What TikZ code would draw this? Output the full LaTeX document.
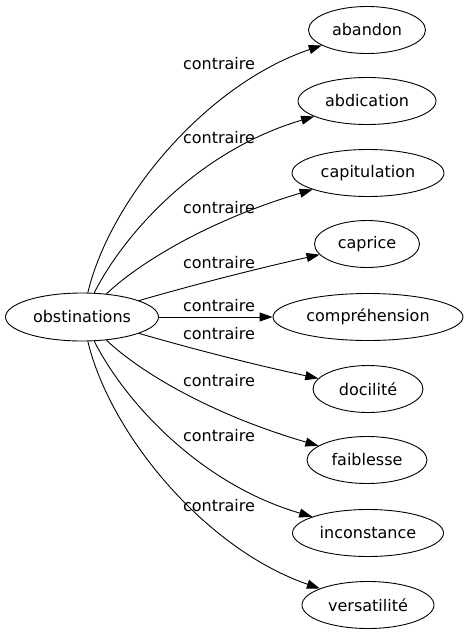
\documentclass[tikz,border=0pt]{standalone}
\usepackage{fontspec}
\setmainfont{DejaVu Sans}
\usetikzlibrary{shapes.geometric,arrows.meta}
\begin{document}
\begin{tikzpicture}[x=1pt,y=-1pt,
  every node/.style={font=\fontsize{16}{19}\selectfont},
  term/.style={draw, ellipse, line width=0.9pt, inner sep=0pt, minimum height=47pt},
  lbl/.style={anchor=base, inner sep=0pt},
  edge/.style={line width=0.9pt, -{Triangle[length=13pt,width=9pt]}}]
\useasboundingbox (0,0) rectangle (467,635);
\node[term, minimum width=153pt, minimum height=48pt] (o) at (82,317) {obstinations};
\node[term, minimum width=117pt] (t1) at (367,30) {abandon};
\node[term, minimum width=138pt] (t2) at (367,101) {abdication};
\node[term, minimum width=152pt] (t3) at (368,173) {capitulation};
\node[term, minimum width=105pt] (t4) at (367,244) {caprice};
\node[term, minimum width=190pt] (t5) at (368,317) {compréhension};
\node[term, minimum width=110pt] (t6) at (368,389) {docilité};
\node[term, minimum width=120pt] (t7) at (367,460) {faiblesse};
\node[term, minimum width=151pt] (t8) at (368,533) {inconstance};
\node[term, minimum width=132pt] (t9) at (368,605) {versatilité};

\draw[edge] (o) .. controls (110,200) and (205,85) .. (t1);
\draw[edge] (o) .. controls (125,232) and (200,150) .. (t2);
\draw[edge] (o) .. controls (140,262) and (210,220) .. (t3);
\draw[edge] (o) .. controls (200,283) and (260,268) .. (t4);
\draw[edge] (o) -- (t5);
\draw[edge] (o) .. controls (200,351) and (260,366) .. (t6);
\draw[edge] (o) .. controls (140,372) and (210,414) .. (t7);
\draw[edge] (o) .. controls (125,402) and (200,484) .. (t8);
\draw[edge] (o) .. controls (110,434) and (205,549) .. (t9);

\node[lbl] (l1) at (219,69) {contraire};
\node[lbl] (l2) at (219,143) {contraire};
\node[lbl] (l3) at (219,213) {contraire};
\node[lbl] (l4) at (219,268) {contraire};
\node[lbl] (l5) at (219,311.5) {contraire};
\node[lbl] (l6) at (219,339) {contraire};
\node[lbl] (l7) at (219,386) {contraire};
\node[lbl] (l8) at (219,441) {contraire};
\node[lbl] (l9) at (219,511) {contraire};
\end{tikzpicture}
\end{document}
